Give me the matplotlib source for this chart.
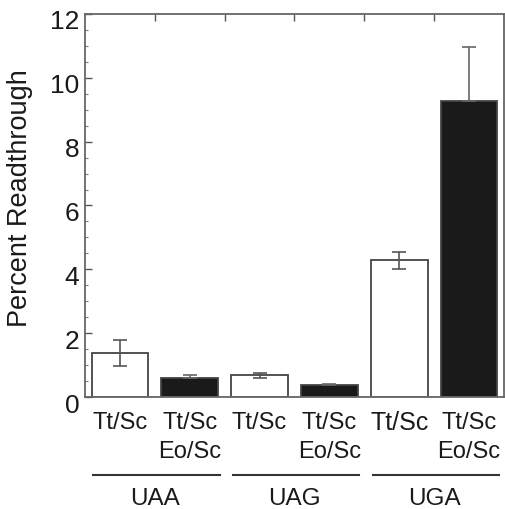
import matplotlib
matplotlib.use('Agg')
import matplotlib.pyplot as plt
import matplotlib.transforms as mtransforms
from matplotlib.ticker import MultipleLocator

plt.rcParams['font.family'] = ['Liberation Sans', 'DejaVu Sans']

# data
bar_labels = ['Tt/Sc', 'Tt/Sc\nEo/Sc', 'Tt/Sc', 'Tt/Sc\nEo/Sc', 'Tt/Sc', 'Tt/Sc\nEo/Sc']
values = [1.38, 0.6, 0.68, 0.39, 4.28, 9.26]
errors = [0.4, 0.08, 0.07, 0.03, 0.27, 1.7]
fills = ['white', '#1a1a1a', 'white', '#1a1a1a', 'white', '#1a1a1a']
groups = ['UAA', 'UAG', 'UGA']

fig = plt.figure(figsize=(5.06, 5.10), dpi=100)
ax = fig.add_axes([0.168, 0.2196, 0.828, 0.751])

edge = '#444444'
xpos = [i + 0.5 for i in range(len(values))]
ax.bar(xpos, values, width=0.81, color=fills, edgecolor=edge, linewidth=1.3, zorder=2)

for x, v, e, f in zip(xpos, values, errors, fills):
    if f == 'white':
        ax.errorbar(x, v, yerr=e, fmt='none', ecolor='#555555', elinewidth=1.2,
                    capsize=5, capthick=1.2, zorder=3)
    else:
        ax.errorbar(x, v, yerr=[[0], [e]], fmt='none', ecolor='#666666', elinewidth=1.2,
                    capsize=5, capthick=1.2, zorder=3)

ax.set_xlim(0, 6)
ax.set_ylim(0, 12)
ax.set_yticks([0, 2, 4, 6, 8, 10, 12])
ax.yaxis.set_minor_locator(MultipleLocator(0.5))
ax.tick_params(axis='y', which='major', direction='in', length=5, width=1,
               color='#555555', labelsize=19, pad=4)
ax.tick_params(axis='y', which='minor', direction='in', length=2, width=0.8,
               color='#777777')
ax.set_xticks([1, 2, 3, 4, 5])
ax.tick_params(axis='x', which='both', bottom=False, top=True, labelbottom=False,
               direction='in', length=5, width=1, color='#555555')
ax.xaxis.set_minor_locator(plt.NullLocator())

# nudge y tick labels down a little, as in the original
offset = mtransforms.ScaledTranslation(0, -5 / 100, fig.dpi_scale_trans)
for lab in ax.get_yticklabels():
    lab.set_transform(lab.get_transform() + offset)
    lab.set_color('#1a1a1a')

for s in ax.spines.values():
    s.set_color('#666666')
    s.set_linewidth(1.3)

ax.set_ylabel('Percent Readthrough', fontsize=19.5, color='#1a1a1a')
ax.yaxis.set_label_coords(-0.124, 0.521)

tr = ax.get_xaxis_transform()
for i, (x, lab) in enumerate(zip(xpos, bar_labels)):
    parts = lab.split('\n')
    size = 18 if i == 4 else 17
    ax.text(x, -0.066, parts[0], transform=tr, ha='center', va='center',
            fontsize=size, color='#1a1a1a', clip_on=False)
    if len(parts) > 1:
        ax.text(x, -0.142, parts[1], transform=tr, ha='center', va='center',
                fontsize=17, color='#1a1a1a', clip_on=False)

for g, name in enumerate(groups):
    ax.plot([2 * g + 0.12, 2 * g + 1.93], [-0.204, -0.204], transform=tr,
            color='#333333', linewidth=1.5, clip_on=False)
    ax.text(2 * g + 1, -0.280, name, transform=tr, ha='center', va='baseline',
            fontsize=17.5, color='#1a1a1a', clip_on=False)

fig.savefig('out.png', dpi=100)
